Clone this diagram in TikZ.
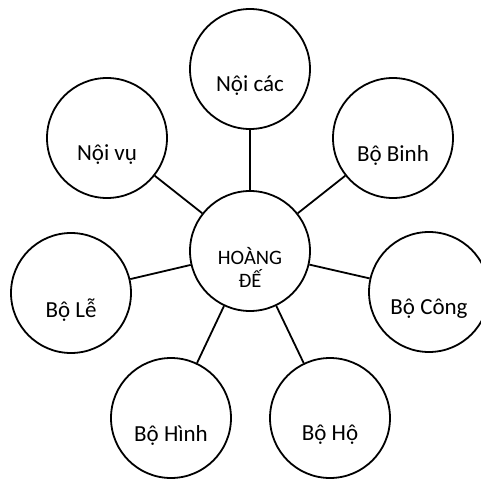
\documentclass[tikz,border=0pt]{standalone}
\usepackage{fontspec}
\setmainfont{Carlito}
\usepackage{tikz}

\begin{document}
\begin{tikzpicture}[x=1pt,y=-1pt,
  bubble/.style={circle,draw,line width=1.8pt,minimum size=120pt,inner sep=0pt},
  bubbletext/.style={font=\fontsize{23}{27}\selectfont,yshift=-17pt},
  hubtext/.style={font=\fontsize{20.5}{23}\selectfont,align=center,yshift=-16pt},
  link/.style={line width=1.8pt}]
\useasboundingbox (0,0) rectangle (481,479);
% the seven offices round the hub
\node[bubble,label={[hubtext]center:HOÀNG\\ĐẾ}] (hoangde) at (250,251) {};
\node[bubble,label={[bubbletext]center:Nội các}] (noicac) at (250,69) {};
\node[bubble,label={[bubbletext]center:Bộ Binh}] (bobinh) at (393,138) {};
\node[bubble,label={[bubbletext]center:Bộ Công}] (bocong) at (429,292) {};
\node[bubble,label={[bubbletext]center:Bộ Hộ}] (boho) at (330,418) {};
\node[bubble,label={[bubbletext]center:Bộ Hình}] (bohinh) at (171,418) {};
\node[bubble,label={[bubbletext]center:Bộ Lễ}] (bole) at (71,293) {};
\node[bubble,label={[bubbletext]center:Nội vụ}] (noivu) at (107,138) {};
\foreach \n in {noicac,bobinh,bocong,boho,bohinh,bole,noivu}
  \draw[link] (hoangde) -- (\n);
\end{tikzpicture}
\end{document}
